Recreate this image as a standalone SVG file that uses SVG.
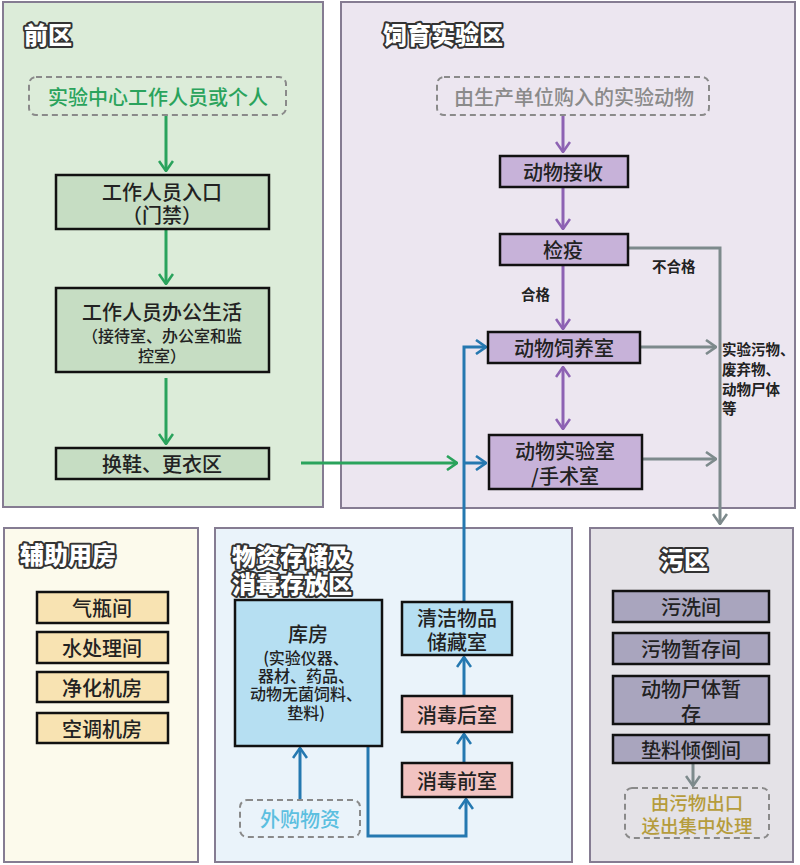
<svg xmlns="http://www.w3.org/2000/svg" width="800" height="865" viewBox="0 0 800 865">
<defs>
<style>
text{font-family:"Noto Sans CJK SC","Noto Sans",sans-serif;text-anchor:middle;dominant-baseline:central;fill:#222}
.zone{stroke:#857c92;stroke-width:2}
.title{font-size:24px;font-weight:900;fill:#fff;stroke:#333;stroke-width:4;paint-order:stroke;stroke-linejoin:round;text-anchor:start}
.box{stroke:#111;stroke-width:2.5}
.t{font-size:20px;font-weight:500}
.s{font-size:16px;font-weight:500}
.lbl{font-size:14.5px;font-weight:700;text-anchor:start}
.dash{fill:none;stroke:#8a8a8a;stroke-width:2;stroke-dasharray:6 4}
.c{fill:none;stroke-width:3}
.g{stroke:#2aa35c}.p{stroke:#8d62b3}.gr{stroke:#7d8a8c}.b{stroke:#2578b0}
</style>
<marker id="mg" viewBox="0 0 12 16" refX="11" refY="8" markerWidth="12" markerHeight="16" orient="auto" markerUnits="userSpaceOnUse"><path d="M1,1 L11,8 L1,15" fill="none" stroke="#2aa35c" stroke-width="2.6"/></marker>
<marker id="mp" viewBox="0 0 12 16" refX="11" refY="8" markerWidth="12" markerHeight="16" orient="auto-start-reverse" markerUnits="userSpaceOnUse"><path d="M1,1 L11,8 L1,15" fill="none" stroke="#8d62b3" stroke-width="2.6"/></marker>
<marker id="mgr" viewBox="0 0 12 16" refX="11" refY="8" markerWidth="12" markerHeight="16" orient="auto" markerUnits="userSpaceOnUse"><path d="M1,1 L11,8 L1,15" fill="none" stroke="#7d8a8c" stroke-width="2.6"/></marker>
<marker id="mb" viewBox="0 0 12 16" refX="11" refY="8" markerWidth="12" markerHeight="16" orient="auto" markerUnits="userSpaceOnUse"><path d="M1,1 L11,8 L1,15" fill="none" stroke="#2578b0" stroke-width="2.6"/></marker>
</defs>
<rect width="800" height="865" fill="#ffffff"/>

<!-- zones -->
<g id="zone-front"><rect class="zone" x="3" y="2" width="320" height="505" fill="#dcecd9"/><text class="title" x="24" y="33">前区</text></g>
<g id="zone-breeding"><rect class="zone" x="341" y="2" width="454" height="506" fill="#ece6f0"/><text class="title" x="383" y="33">饲育实验区</text></g>
<g id="zone-aux"><rect class="zone" x="4" y="528" width="194" height="334" fill="#fcfaec"/><text class="title" x="20" y="553">辅助用房</text></g>
<g id="zone-storage"><rect class="zone" x="215" y="528" width="357" height="334" fill="#eaf3fa"/><text class="title" x="232" y="555"><tspan x="232" y="555">物资存储及</tspan><tspan x="232" y="582">消毒存放区</tspan></text></g>
<g id="zone-dirty"><rect class="zone" x="590" y="528" width="203" height="334" fill="#e4e2e7"/><text class="title" x="660" y="558">污区</text></g>

<!-- connectors -->
<g id="connectors">
<path class="c g" d="M166,115 V171" marker-end="url(#mg)"/>
<path class="c g" d="M166,230 V284" marker-end="url(#mg)"/>
<path class="c g" d="M166,378 V444" marker-end="url(#mg)"/>
<path class="c g" d="M301,463 H457" marker-end="url(#mg)"/>
<path class="c p" d="M563,115 V152" marker-end="url(#mp)"/>
<path class="c p" d="M563,187 V229" marker-end="url(#mp)"/>
<path class="c p" d="M563,265 V329" marker-end="url(#mp)"/>
<path class="c p" d="M563,367 V429" marker-start="url(#mp)" marker-end="url(#mp)"/>
<path class="c gr" d="M628,248 H720 V524" marker-end="url(#mgr)"/>
<path class="c gr" d="M641,347 H716" marker-end="url(#mgr)"/>
<path class="c gr" d="M643,459 H716" marker-end="url(#mgr)"/>
<path class="c b" d="M464,602 V347 H486" marker-end="url(#mb)"/>
<path class="c b" d="M464,463 H486" marker-end="url(#mb)"/>
<path class="c b" d="M464,696 V657" marker-end="url(#mb)"/>
<path class="c b" d="M464,763 V734" marker-end="url(#mb)"/>
<path class="c b" d="M368,746 V836 H466 V799" marker-end="url(#mb)"/>
<path class="c b" d="M300,800 V748" marker-end="url(#mb)"/>
<path class="c gr" d="M693,763 V786" marker-end="url(#mgr)"/>
<text class="lbl" x="652" y="265">不合格</text>
<text class="lbl" x="521" y="293">合格</text>
<text class="lbl" x="722" y="348"><tspan x="722" y="348">实验污物、</tspan><tspan x="722" y="368">废弃物、</tspan><tspan x="722" y="388">动物尸体</tspan><tspan x="722" y="407">等</tspan></text>
</g>

<!-- front zone nodes -->
<g id="n-staff"><rect class="dash" x="29" y="77" width="257" height="38" rx="7"/><text class="t" x="158" y="96" style="fill:#2aa35c">实验中心工作人员或个人</text></g>
<g id="n-entrance"><rect class="box" x="56" y="175" width="213" height="54" fill="#c6ddc3"/><text class="t" x="162" y="191"><tspan x="162" y="191">工作人员入口</tspan><tspan x="162" y="214">（门禁）</tspan></text></g>
<g id="n-office"><rect class="box" x="56" y="288" width="213" height="84" fill="#c6ddc3"/><text class="t" x="162" y="311">工作人员办公生活</text><text class="s" x="162" y="335"><tspan x="162" y="335">（接待室、办公室和监</tspan><tspan x="162" y="355">控室）</tspan></text></g>
<g id="n-change"><rect class="box" x="56" y="448" width="213" height="31" fill="#c6ddc3"/><text class="t" x="162" y="463">换鞋、更衣区</text></g>

<!-- breeding zone nodes -->
<g id="n-purchase"><rect class="dash" x="437" y="77" width="272" height="38" rx="7"/><text class="t" x="574" y="96" style="fill:#8a8a8a">由生产单位购入的实验动物</text></g>
<g id="n-receive"><rect class="box" x="500" y="156" width="128" height="31" fill="#c7b2d9"/><text class="t" x="563" y="171">动物接收</text></g>
<g id="n-quarantine"><rect class="box" x="500" y="234" width="128" height="31" fill="#c7b2d9"/><text class="t" x="563" y="249">检疫</text></g>
<g id="n-feeding"><rect class="box" x="488" y="332" width="152" height="31" fill="#c7b2d9"/><text class="t" x="564" y="347">动物饲养室</text></g>
<g id="n-lab"><rect class="box" x="489" y="435" width="153" height="54" fill="#c7b2d9"/><text class="t" x="565" y="450"><tspan x="565" y="450">动物实验室</tspan><tspan x="565" y="475">/手术室</tspan></text></g>

<!-- aux zone nodes -->
<g id="n-gas"><rect class="box" x="37" y="592" width="131" height="31" fill="#f8e3b2"/><text class="t" x="102" y="607">气瓶间</text></g>
<g id="n-water"><rect class="box" x="37" y="632" width="131" height="31" fill="#f8e3b2"/><text class="t" x="102" y="647">水处理间</text></g>
<g id="n-purify"><rect class="box" x="37" y="672" width="131" height="30" fill="#f8e3b2"/><text class="t" x="102" y="687">净化机房</text></g>
<g id="n-ac"><rect class="box" x="37" y="713" width="131" height="30" fill="#f8e3b2"/><text class="t" x="102" y="728">空调机房</text></g>

<!-- storage zone nodes -->
<g id="n-warehouse"><rect class="box" x="235" y="600" width="147" height="146" fill="#b6dff2"/><text class="t" x="308" y="633">库房</text><text class="s" x="306" y="657"><tspan x="306" y="657">(实验仪器、</tspan><tspan x="306" y="675">器材、药品、</tspan><tspan x="306" y="693">动物无菌饲料、</tspan><tspan x="306" y="712">垫料)</tspan></text></g>
<g id="n-external"><rect class="dash" x="240" y="800" width="120" height="37" rx="7"/><text class="t" x="300" y="818" style="fill:#5cbfe0">外购物资</text></g>
<g id="n-clean"><rect class="box" x="402" y="602" width="110" height="53" fill="#b6dff2"/><text class="t" x="457" y="617"><tspan x="457" y="617">清洁物品</tspan><tspan x="457" y="641">储藏室</tspan></text></g>
<g id="n-postdis"><rect class="box" x="402" y="696" width="110" height="36" fill="#f2c3c1"/><text class="t" x="457" y="714">消毒后室</text></g>
<g id="n-predis"><rect class="box" x="402" y="763" width="110" height="34" fill="#f2c3c1"/><text class="t" x="457" y="780">消毒前室</text></g>

<!-- dirty zone nodes -->
<g id="n-wash"><rect class="box" x="613" y="591" width="156" height="31" fill="#a9a5be"/><text class="t" x="691" y="606">污洗间</text></g>
<g id="n-waste"><rect class="box" x="613" y="633" width="156" height="31" fill="#a9a5be"/><text class="t" x="691" y="648">污物暂存间</text></g>
<g id="n-carcass"><rect class="box" x="613" y="676" width="156" height="48" fill="#a9a5be"/><text class="t" x="691" y="688"><tspan x="691" y="688">动物尸体暂</tspan><tspan x="691" y="713">存</tspan></text></g>
<g id="n-bedding"><rect class="box" x="613" y="735" width="156" height="28" fill="#a9a5be"/><text class="t" x="691" y="749">垫料倾倒间</text></g>
<g id="n-exit"><rect class="dash" x="625" y="788" width="144" height="50" rx="7"/><text class="s" x="697" y="802" style="font-size:18.5px;fill:#b59c3c"><tspan x="697" y="802">由污物出口</tspan><tspan x="697" y="825">送出集中处理</tspan></text></g>
</svg>
